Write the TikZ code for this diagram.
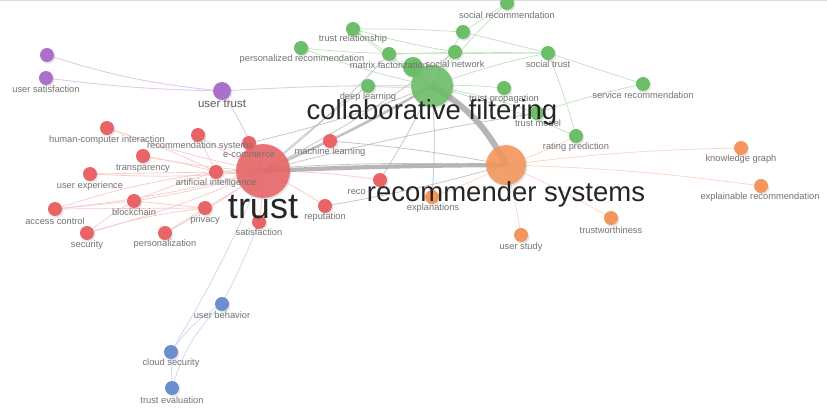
\documentclass[tikz,border=0pt]{standalone}
\usepackage{fontspec}
\setmainfont{Liberation Sans}
\usetikzlibrary{shadows}
\definecolor{cred}{RGB}{232,100,102}
\definecolor{cgreen}{RGB}{108,190,104}
\definecolor{corange}{RGB}{244,150,92}
\definecolor{cpurple}{RGB}{170,112,202}
\definecolor{cblue}{RGB}{108,142,208}
\definecolor{lblgray}{RGB}{115,115,115}
\definecolor{biggray}{RGB}{38,38,38}
\definecolor{egray}{RGB}{175,175,175}
\tikzset{
  nd/.style={circle, inner sep=0pt, minimum size=14pt,
    drop shadow={shadow xshift=1.4pt, shadow yshift=-1.8pt, opacity=0.2}},
  rn/.style={nd, fill=cred},
  gn/.style={nd, fill=cgreen},
  on/.style={nd, fill=corange},
  pn/.style={nd, fill=cpurple},
  bn/.style={nd, fill=cblue},
  hub/.style={fill opacity=0.88},
  lbl/.style={font=\fontsize{9.3}{10}\selectfont, text=lblgray, inner sep=0pt},
  big/.style={text=biggray, inner sep=0pt},
  ered/.style={draw=cred!35, line width=0.7pt},
  egreen/.style={draw=cgreen!45, line width=0.7pt},
  eorange/.style={draw=corange!40, line width=0.7pt},
  epurple/.style={draw=cpurple!40, line width=0.8pt},
  eblue/.style={draw=cblue!35, line width=0.7pt},
  egr/.style={draw=egray, draw opacity=0.7, line width=0.8pt},
}
\begin{document}
\begin{tikzpicture}[x=1pt, y=-1pt]
\useasboundingbox (0,0) rectangle (827,414);
\fill[white] (0,0) rectangle (827,414);
\draw[black!15, line width=1.5pt] (0,0.75) -- (827,0.75);

% ---------- positions ----------
% purple
\coordinate (pA) at (47,55);
\coordinate (usat) at (46,78);
\coordinate (utrust) at (222,91);
% green
\coordinate (cf) at (432,86);
\coordinate (socrec) at (507,3);
\coordinate (trel) at (353,29);
\coordinate (gA) at (463,32);
\coordinate (persrec) at (301,48);
\coordinate (mf) at (389,54);
\coordinate (gB) at (413,67);
\coordinate (sn) at (455,52);
\coordinate (strust) at (548,53);
\coordinate (servrec) at (643,84);
\coordinate (dl) at (368,86);
\coordinate (tprop) at (504,88);
\coordinate (tmodel) at (537,113);
\coordinate (ratpred) at (576,136);
% red
\coordinate (trust) at (263,171);
\coordinate (hci) at (107,128);
\coordinate (recsys) at (198,135);
\coordinate (ecom) at (249,143);
\coordinate (transp) at (143,156);
\coordinate (ml) at (330,141);
\coordinate (uexp) at (90,174);
\coordinate (ai) at (216,172);
\coordinate (acc) at (55,209);
\coordinate (bc) at (134,201);
\coordinate (privacy) at (205,208);
\coordinate (security) at (87,233);
\coordinate (pers) at (165,233);
\coordinate (satis) at (259,222);
\coordinate (repu) at (325,206);
\coordinate (recom) at (380,180);
% orange
\coordinate (rs) at (506,165);
\coordinate (expl) at (432,197);
\coordinate (kg) at (741,148);
\coordinate (exrec) at (761,186);
\coordinate (trustw) at (611,218);
\coordinate (ustudy) at (521,235);
% blue
\coordinate (ubeh) at (222,304);
\coordinate (cloud) at (171,352);
\coordinate (teval) at (172,388);

% ---------- edges ----------
% purple
\draw[epurple] (pA) to[bend right=6] (utrust);
\draw[epurple] (usat) to[bend right=3] (utrust);
\draw[epurple] (utrust) to[bend left=2] (cf);
\draw[epurple] (utrust) to[bend left=4] (trust);
% blue
\draw[eblue] (cloud) -- (teval);
\draw[eblue] (cloud) to[bend left=12] (ubeh);
\draw[eblue] (teval) to[bend left=14] (ubeh);
\draw[eblue] (cloud) to[bend right=4] (trust);
\draw[eblue] (ubeh) to[bend right=3] (satis);
% red
\foreach \n in {hci,recsys,ecom,transp,uexp,ai,acc,bc,privacy,security,pers,satis,repu,ml,recom}
  \draw[ered] (trust) to[bend left=4] (\n);
\draw[ered] (hci) to[bend left=4] (ai);
\draw[ered] (transp) to[bend left=3] (ai);
\draw[ered] (uexp) -- (ai);
\draw[ered] (acc) to[bend left=5] (ai);
\draw[ered] (acc) -- (bc);
\draw[ered] (acc) -- (privacy);
\draw[ered] (security) to[bend left=4] (bc);
\draw[ered] (security) to[bend left=5] (privacy);
\draw[ered] (pers) -- (privacy);
\draw[ered] (bc) to[bend left=3] (ai);
\draw[ered] (bc) -- (privacy);
\draw[ered] (recsys) -- (ai);
% green
\foreach \n in {trel,persrec,mf,sn,strust,dl,tprop,tmodel,socrec,gA,ratpred}
  \draw[egreen] (cf) to[bend left=4] (\n);
\draw[egreen] (trel) to[bend left=2] (gA);
\draw[egreen] (trel) to[bend right=3] (sn);
\draw[egreen] (mf) -- (strust);
\draw[egreen] (sn) -- (strust);
\draw[egreen] (gA) -- (socrec);
\draw[egreen] (strust) to[bend left=3] (ratpred);
\draw[egreen] (strust) -- (servrec);
\draw[egreen] (tmodel) to[bend left=3] (servrec);
\draw[egreen] (persrec) to[bend right=4] (sn);
\draw[egreen] (trel) -- (mf);
\draw[egreen] (gA) -- (strust);
% orange
\foreach \n in {kg,exrec,trustw,ustudy,expl}
  \draw[eorange] (rs) to[bend left=3] (\n);
\draw[eorange] (rs) to[bend right=4] (ratpred);
% gray cross-cluster
\draw[egr] (trust) to[bend right=4] (sn);
\draw[egr] (trust) to[bend left=3] (tmodel);
\draw[egr] (ai) to[bend left=3] (rs);
\draw[egr] (ml) to[bend right=3] (cf);
\draw[egr] (ecom) to[bend right=4] (cf);
\draw[egr] (recom) to[bend right=3] (cf);
\draw[egr] (repu) to[bend right=3] (rs);
\draw[egr] (dl) to[bend right=3] (trust);
\draw[egr] (ml) to[bend left=3] (rs);
\draw[egr] (trust) to[bend right=4] (mf);
\draw[egr] (cf) to[bend left=4] (expl);
\draw[egr, line width=2.4pt] (trust) to[bend right=3] (cf);
\draw[egr, draw opacity=0.9, line width=4.2pt] (trust) to[bend left=1] (rs);
\draw[egr, draw opacity=0.9, line width=6pt] (cf) to[bend left=16] (rs);

% ---------- nodes ----------
\node[pn] (pA-n) at (pA) {};
\node[pn] (usat-n) at (usat) {};
\node[pn, minimum size=18pt] (utrust-n) at (utrust) {};

\node[gn] (socrec-n) at (socrec) {};
\node[gn] (trel-n) at (trel) {};
\node[gn] (gA-n) at (gA) {};
\node[gn] (persrec-n) at (persrec) {};
\node[gn] (mf-n) at (mf) {};
\node[gn] (sn-n) at (sn) {};
\node[gn] (strust-n) at (strust) {};
\node[gn] (servrec-n) at (servrec) {};
\node[gn] (dl-n) at (dl) {};
\node[gn] (tprop-n) at (tprop) {};
\node[gn] (tmodel-n) at (tmodel) {};
\node[gn] (ratpred-n) at (ratpred) {};
\node[gn, minimum size=20pt] (gB-n) at (gB) {};
\node[gn, hub, minimum size=42pt] (cf-n) at (cf) {};

\node[rn] (hci-n) at (hci) {};
\node[rn] (recsys-n) at (recsys) {};
\node[rn] (transp-n) at (transp) {};
\node[rn] (ml-n) at (ml) {};
\node[rn] (uexp-n) at (uexp) {};
\node[rn] (acc-n) at (acc) {};
\node[rn] (bc-n) at (bc) {};
\node[rn] (privacy-n) at (privacy) {};
\node[rn] (security-n) at (security) {};
\node[rn] (pers-n) at (pers) {};
\node[rn] (satis-n) at (satis) {};
\node[rn] (repu-n) at (repu) {};
\node[rn] (recom-n) at (recom) {};
\node[rn] (ai-n) at (ai) {};
\node[rn] (ecom-n) at (ecom) {};
\node[rn, hub, minimum size=54pt] (trust-n) at (trust) {};

\node[on] (expl-n) at (expl) {};
\node[on] (kg-n) at (kg) {};
\node[on] (exrec-n) at (exrec) {};
\node[on] (trustw-n) at (trustw) {};
\node[on] (ustudy-n) at (ustudy) {};
\node[on, hub, minimum size=40pt] (rs-n) at (rs) {};

\node[bn] (ubeh-n) at (ubeh) {};
\node[bn] (cloud-n) at (cloud) {};
\node[bn] (teval-n) at (teval) {};

% ---------- labels ----------
\node[lbl] (usat-l) at (46,89) {user satisfaction};
\node[lbl, font=\fontsize{11.5}{12}\selectfont, text=black!65] (utrust-l) at (222,104) {user trust};

\node[lbl] (socrec-l) at (507,15) {social recommendation};
\node[lbl] (trel-l) at (353,39) {trust relationship};
\node[lbl] (persrec-l) at (302,59) {personalized recommendation};
\node[lbl] (mf-l) at (389,65) {matrix factorization};
\node[lbl] (sn-l) at (455,64) {social network};
\node[lbl] (strust-l) at (548,64) {social trust};
\node[lbl] (servrec-l) at (643,95) {service recommendation};
\node[lbl] (dl-l) at (368,97) {deep learning};
\node[lbl] (tprop-l) at (504,99) {trust propagation};
\node[lbl] (tmodel-l) at (538,123) {trust model};
\node[lbl] (ratpred-l) at (576,147) {rating prediction};

\node[lbl] (hci-l) at (107,140) {human-computer interaction};
\node[lbl] (recsys-l) at (200,146) {recommendation systems};
\node[lbl] (ecom-l) at (249,155) {e-commerce};
\node[lbl] (transp-l) at (143,168) {transparency};
\node[lbl] (ml-l) at (330,152) {machine learning};
\node[lbl] (uexp-l) at (90,186) {user experience};
\node[lbl] (ai-l) at (216,183) {artificial intelligence};
\node[lbl] (acc-l) at (55,221) {access control};
\node[lbl] (bc-l) at (134,212) {blockchain};
\node[lbl] (privacy-l) at (205,220) {privacy};
\node[lbl] (security-l) at (87,245) {security};
\node[lbl] (pers-l) at (165,244) {personalization};
\node[lbl] (satis-l) at (259,232) {satisfaction};
\node[lbl] (repu-l) at (325,217) {reputation};
\node[lbl, anchor=east] (recom-l) at (366,192) {reco};

\node[lbl] (expl-l) at (433,208) {explanations};
\node[lbl] (kg-l) at (741,159) {knowledge graph};
\node[lbl] (exrec-l) at (760,197) {explainable recommendation};
\node[lbl] (trustw-l) at (611,230) {trustworthiness};
\node[lbl] (ustudy-l) at (521,247) {user study};

\node[lbl] (ubeh-l) at (222,315) {user behavior};
\node[lbl] (cloud-l) at (171,363) {cloud security};
\node[lbl] (teval-l) at (172,400) {trust evaluation};

\node[big, font=\fontsize{36}{36}\selectfont] (trust-l) at (263,207) {trust};
\node[big, font=\fontsize{27.5}{28}\selectfont] (cf-l) at (432,112) {collaborative filtering};
\node[big, font=\fontsize{27.5}{28}\selectfont] (rs-l) at (506,194) {recommender systems};
\end{tikzpicture}
\end{document}
